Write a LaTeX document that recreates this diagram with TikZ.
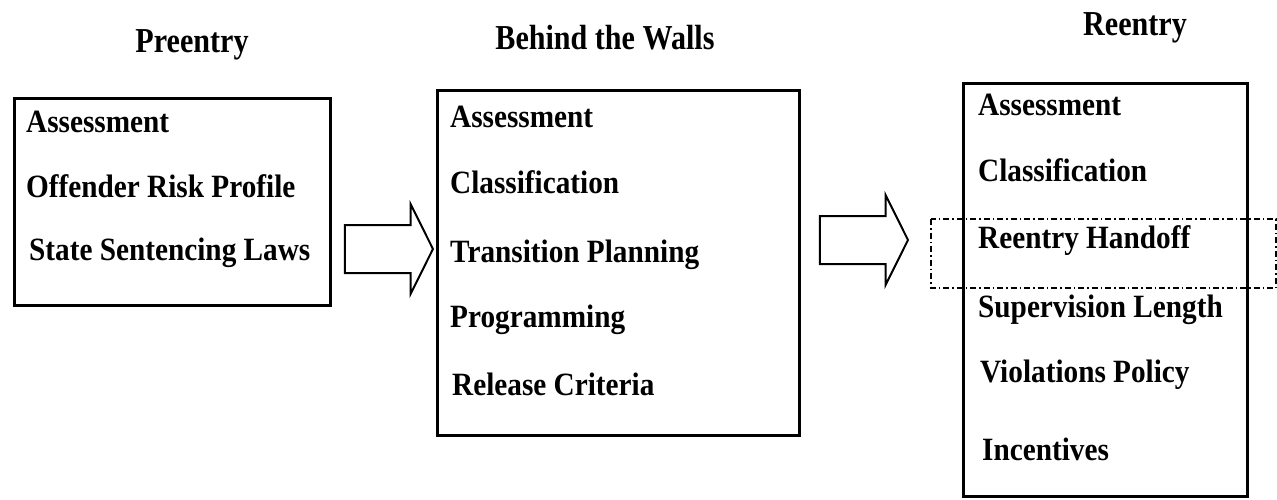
\documentclass[tikz,border=0pt]{standalone}
\usepackage{fontspec}
\setmainfont{Liberation Serif}
\newfontfamily\itemfont{Liberation Serif}[FakeStretch=0.9]
\newfontfamily\titlefont{Liberation Serif}[FakeStretch=0.86]
\usetikzlibrary{shapes.arrows}
\begin{document}
\begin{tikzpicture}[x=1pt,y=-1pt,
  box/.style={draw, line width=3pt, anchor=north west, inner sep=0pt},
  item/.style={anchor=west, inner sep=0pt, font=\itemfont\fontsize{32.5}{36}\selectfont\bfseries},
  title/.style={anchor=center, inner sep=0pt, font=\titlefont\fontsize{35}{38}\selectfont\bfseries},
  blockarrow/.style={single arrow, draw, line width=2pt, inner xsep=0pt, inner ysep=23pt,
     minimum height=88pt, single arrow head extend=21pt,
     single arrow tip angle=127},
  hand/.style={draw, line width=1.6pt, dash pattern=on 6pt off 3pt on 1.5pt off 3pt}]
\useasboundingbox (0,0) rectangle (1277,500);
% titles
\node[title] (t1) at (192,45) {Preentry};
\node[title] (t2) at (605,38) {Behind the Walls};
\node[title] (t3) at (1135,28) {Reentry};
% boxes
\node[box, minimum width=316pt, minimum height=207pt] (b1) at (13,97) {};
\node[box, minimum width=362pt, minimum height=345pt] (b2) at (436,89) {};
\node[box, minimum width=284pt, minimum height=413pt] (b3) at (962,82) {};
% dashed handoff region
\draw[hand] (931,219) rectangle (1276,288);
% arrows
\node[blockarrow] (a1) at (383,249) {};
\node[blockarrow] (a2) at (858,240) {};
% box 1 items
\node[item] (p1) at (26,122) {Assessment};
\node[item] (p2) at (26,186) {Offender Risk Profile};
\node[item] (p3) at (29,253) {State Sentencing Laws};
% box 2 items
\node[item] (w1) at (450,117) {Assessment};
\node[item] (w2) at (450,182) {Classification};
\node[item] (w3) at (450,255) {Transition Planning};
\node[item] (w4) at (450,320) {Programming};
\node[item] (w5) at (452,384) {Release Criteria};
% box 3 items
\node[item] (r1) at (978,105) {Assessment};
\node[item] (r2) at (978,170) {Classification};
\node[item] (r3) at (978,241) {Reentry Handoff};
\node[item] (r4) at (978,310) {Supervision Length};
\node[item] (r5) at (980,375) {Violations Policy};
\node[item] (r6) at (982,449) {Incentives};
\end{tikzpicture}
\end{document}
